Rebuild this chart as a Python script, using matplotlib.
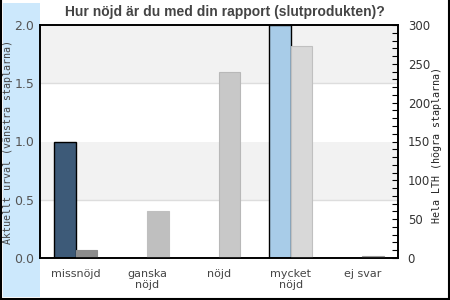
import matplotlib
matplotlib.use("Agg")
import matplotlib.pyplot as plt
import numpy as np
from matplotlib.patches import Rectangle
from matplotlib.lines import Line2D
from matplotlib.ticker import MultipleLocator

categories = ["missnöjd", "ganska\nnöjd", "nöjd", "mycket\nnöjd", "ej svar"]
urval = [1.0, 0, 0, 2.0, 0]            # left axis
hela_lth = [10, 60, 240, 273, 2]        # right axis

urval_colors = ["#3d5a78", "#3d5a78", "#3d5a78", "#a8cce8", "#3d5a78"]
lth_colors = ["#8c8c8c", "#bfbfbf", "#c8c8c8", "#d8d8d8", "#9a9a9a"]
lth_edges = ["#8c8c8c", "#bfbfbf", "#b8b8b8", "#c0c0c0", "#9a9a9a"]

fig = plt.figure(figsize=(4.5, 3), dpi=100)
W, H = 450, 300

# light blue band and border
fig.patches.append(Rectangle((3 / W, 3 / H), 37 / W, 294 / H, transform=fig.transFigure,
                             facecolor="#cce8fc", edgecolor="none", zorder=-1))
for xs, ys in [([0.5 / W, 0.5 / W], [0, 1]), ([0, 1], [1.5 / H, 1.5 / H]),
               ([1 - 1 / W, 1 - 1 / W], [0, 1])]:
    fig.lines.append(Line2D(xs, ys, transform=fig.transFigure, color="black", lw=1.5, zorder=5))

ax = fig.add_axes([40 / W, 42 / H, 358 / W, 233 / H])
ax2 = ax.twinx()

x = np.arange(len(categories))
w = 0.3

# bands
for lo, hi, c in [(0, 0.5, "white"), (0.5, 1.0, "#f2f2f2"), (1.0, 1.5, "white"), (1.5, 2.0, "#f2f2f2")]:
    ax.axhspan(lo, hi, color=c, zorder=0, lw=0)
for yv in [0.5, 1.5]:
    ax.axhline(yv, color="#dddddd", lw=1, zorder=0.5)

for i in range(len(categories)):
    if urval[i] > 0:
        ax.bar(x[i] - w / 2, urval[i], width=w, color=urval_colors[i], edgecolor="black",
               linewidth=1, zorder=2)
    ax2.bar(x[i] + w / 2, hela_lth[i], width=w, color=lth_colors[i], edgecolor=lth_edges[i],
            linewidth=0.8, zorder=2)

ax.set_xlim(-0.5, len(categories) - 0.5)
ax.set_ylim(0, 2.0)
ax2.set_ylim(0, 300)

ax.set_xticks(x)
ax.set_xticklabels(categories, fontsize=8, color="#444444", linespacing=1.1)
ax.tick_params(axis="x", length=0, pad=8)
ax.set_yticks([0, 0.5, 1.0, 1.5, 2.0])
ax.set_yticklabels(["0.0", "0.5", "1.0", "1.5", "2.0"])
ax.tick_params(axis="y", length=0, pad=4, labelsize=9, labelcolor="#555555")

ax2.yaxis.set_major_locator(MultipleLocator(50))
ax2.yaxis.set_minor_locator(MultipleLocator(10))
ax2.tick_params(axis="y", which="both", direction="in", length=4, width=0.8,
                pad=7, labelsize=8.5, labelcolor="#333333")

for a in (ax, ax2):
    for s in a.spines.values():
        s.set_color("black")
        s.set_linewidth(1.2)

fig.text(8 / W, 1 - 141.5 / H, "Aktuellt urval (vänstra staplarna)", rotation=90,
         ha="center", va="center", family="DejaVu Sans Mono", fontsize=7.2, color="#444444")
fig.text(437 / W, 1 - 145 / H, "Hela LTH (högra staplarna)", rotation=90,
         ha="center", va="center", family="DejaVu Sans Mono", fontsize=7.2, color="#222222")
fig.text(0.5, 1 - 12 / H, "Hur nöjd är du med din rapport (slutprodukten)?", ha="center",
         va="center", family="Liberation Sans", fontweight="bold", fontsize=10, color="#444444")

fig.savefig("out.png", dpi=100, facecolor="white")
